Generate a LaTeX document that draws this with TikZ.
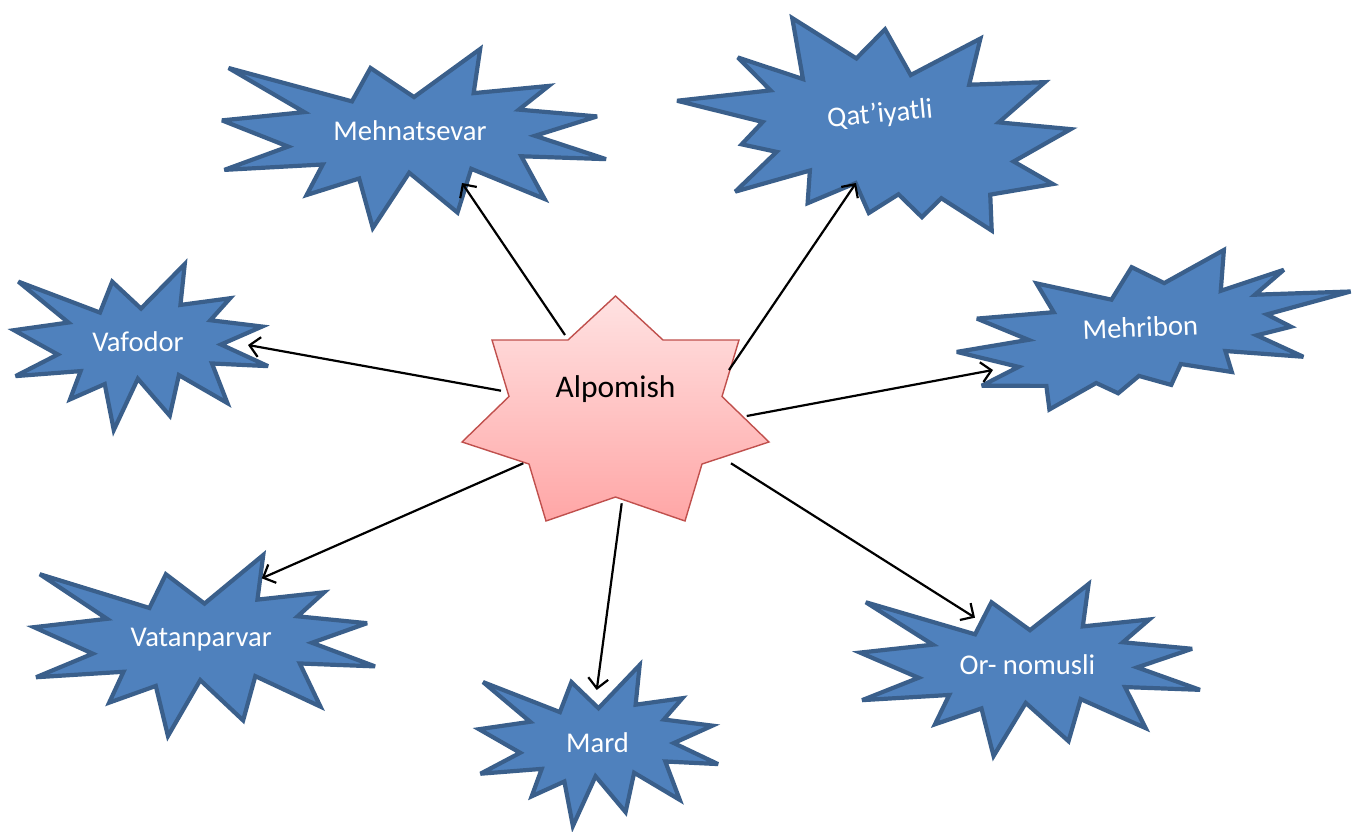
\documentclass[tikz,border=0pt]{standalone}
\usepackage{fontspec}
\setmainfont{Carlito}
\usetikzlibrary{arrows.meta}
\definecolor{sealfill}{HTML}{4F81BD}
\definecolor{sealline}{HTML}{3A5F8B}
\definecolor{starline}{HTML}{C0504D}
\definecolor{startop}{HTML}{FFE2E2}
\definecolor{starbot}{HTML}{FFA6A6}
\def\sealApath{(0,-0.2315) -- (0.1723,-0.5) -- (0.1553,-0.2535) -- (0.3509,-0.2937) -- (0.2732,-0.1613) -- (0.4767,-0.1233) -- (0.3151,-0.0151) -- (0.5,0.1153) -- (0.2795,0.0992) -- (0.3401,0.3377) -- (0.1491,0.1693) -- (0.1133,0.4138) -- (-0.0124,0.1914) -- (-0.1072,0.5) -- (-0.1428,0.2235) -- (-0.2795,0.3156) -- (-0.2376,0.1452) -- (-0.4938,0.1753) -- (-0.3277,0.0451) -- (-0.5,-0.1012) -- (-0.2858,-0.1474) -- (-0.4829,-0.3938) -- (-0.1615,-0.2074) -- (-0.1133,-0.3938) -- cycle}
\def\sealBpath{(-0.0499,-0.4126) -- (-0.1042,-0.2045) -- (-0.2916,-0.3322) -- (-0.2513,-0.1381) -- (-0.4457,-0.1171) -- (-0.3178,0.0367) -- (-0.5,0.0962) -- (-0.3458,0.2116) -- (-0.4405,0.3252) -- (-0.2776,0.3444) -- (-0.2724,0.5) -- (-0.1515,0.3391) -- (-0.0972,0.4126) -- (-0.0430,0.3042) -- (0.0376,0.3723) -- (0.0639,0.2377) -- (0.1918,0.3042) -- (0.1778,0.1644) -- (0.3739,0.2237) -- (0.2583,0.0699) -- (0.3458,0.0227) -- (0.2863,-0.0647) -- (0.5,-0.1924) -- (0.2583,-0.1976) -- (0.3337,-0.3532) -- (0.1725,-0.2326) -- (0.1847,-0.5) -- (0.0307,-0.2990) -- cycle}
\tikzset{
  sealshape/.style={fill=sealfill, draw=sealline, line width=4.2pt, line join=miter, miter limit=4},
  lbl/.style={anchor=base, text=white, inner sep=0pt, font=\fontsize{28.6}{34}\selectfont},
  arr/.style={draw=black, line width=2.2pt, -{Straight Barb[length=10pt,width=20pt,line width=2.2pt]}},
}
\begin{document}
\begin{tikzpicture}[x=1pt,y=-1pt]
\useasboundingbox (0,0) rectangle (1355,832);
% blue explosions
\begin{scope}[shift={(414,138.5)}, xscale=384, yscale=179]
  \draw[sealshape] \sealApath;
\end{scope}
\begin{scope}[shift={(875,126)}, rotate=5.6, xscale=-389, yscale=231]
  \draw[sealshape] \sealBpath;
\end{scope}
\begin{scope}[shift={(141,347)}, xscale=254, yscale=166]
  \draw[sealshape] \sealApath;
\end{scope}
\begin{scope}[shift={(1154,329)}, rotate=2.4, xscale=396, yscale=152]
  \draw[sealshape] \sealBpath;
\end{scope}
\begin{scope}[shift={(204.5,645.5)}, xscale=341, yscale=181]
  \draw[sealshape] \sealApath;
\end{scope}
\begin{scope}[shift={(598.5,745.5)}, xscale=239, yscale=161]
  \draw[sealshape] \sealApath;
\end{scope}
\begin{scope}[shift={(1030,670)}, xscale=340, yscale=172]
  \draw[sealshape] \sealApath;
\end{scope}
% central star
\draw[draw=starline, line width=1.4pt, top color=startop, bottom color=starbot, line join=miter]
  (615.5,296) -- (663,340) -- (739,340) -- (722,396.5) -- (769,442) -- (702,464) -- (685,521)
  -- (615.5,497) -- (546,521) -- (529,464) -- (462,442) -- (509,396.5) -- (492,340) -- (568,340) -- cycle;
% labels
\node[lbl] (mehn) at (410,140.7) {Mehnatsevar};
\node[lbl, rotate=5.6] (qat) at (880.7,122.7) {Qat’iyatli};
\node[lbl] (vaf) at (138,351.7) {Vafodor};
\node[lbl, rotate=2.4] (mehr) at (1140.7,337) {Mehribon};
\node[lbl] (vat) at (201.2,646.7) {Vatanparvar};
\node[lbl] (mard) at (597.5,752.3) {Mard};
\node[lbl] (orn) at (1027.5,674) {Or- nomusli};
\node[lbl, text=black, font=\fontsize{31.5}{37}\selectfont] (alp) at (615.5,397.3) {Alpomish};
% connector end points
\coordinate (alpNW) at (565,335);
\coordinate (alpNE) at (729,370);
\coordinate (alpW) at (501,390.7);
\coordinate (alpE) at (746.7,416);
\coordinate (alpSW) at (523.3,463.3);
\coordinate (alpS) at (621.7,503.3);
\coordinate (alpSE) at (731,463.3);
\coordinate (mehnIn) at (462,183);
\coordinate (qatIn) at (856,183);
\coordinate (vafIn) at (248,345);
\coordinate (mehrIn) at (993,370);
\coordinate (vatIn) at (261.7,578.3);
\coordinate (mardIn) at (596.7,690);
\coordinate (ornIn) at (975,617.7);
% arrows
\draw[arr] (alpNW) -- (mehnIn);
\draw[arr] (alpNE) -- (qatIn);
\draw[arr] (alpW) -- (vafIn);
\draw[arr] (alpE) -- (mehrIn);
\draw[arr] (alpSW) -- (vatIn);
\draw[arr] (alpS) -- (mardIn);
\draw[arr] (alpSE) -- (ornIn);
\end{tikzpicture}
\end{document}
